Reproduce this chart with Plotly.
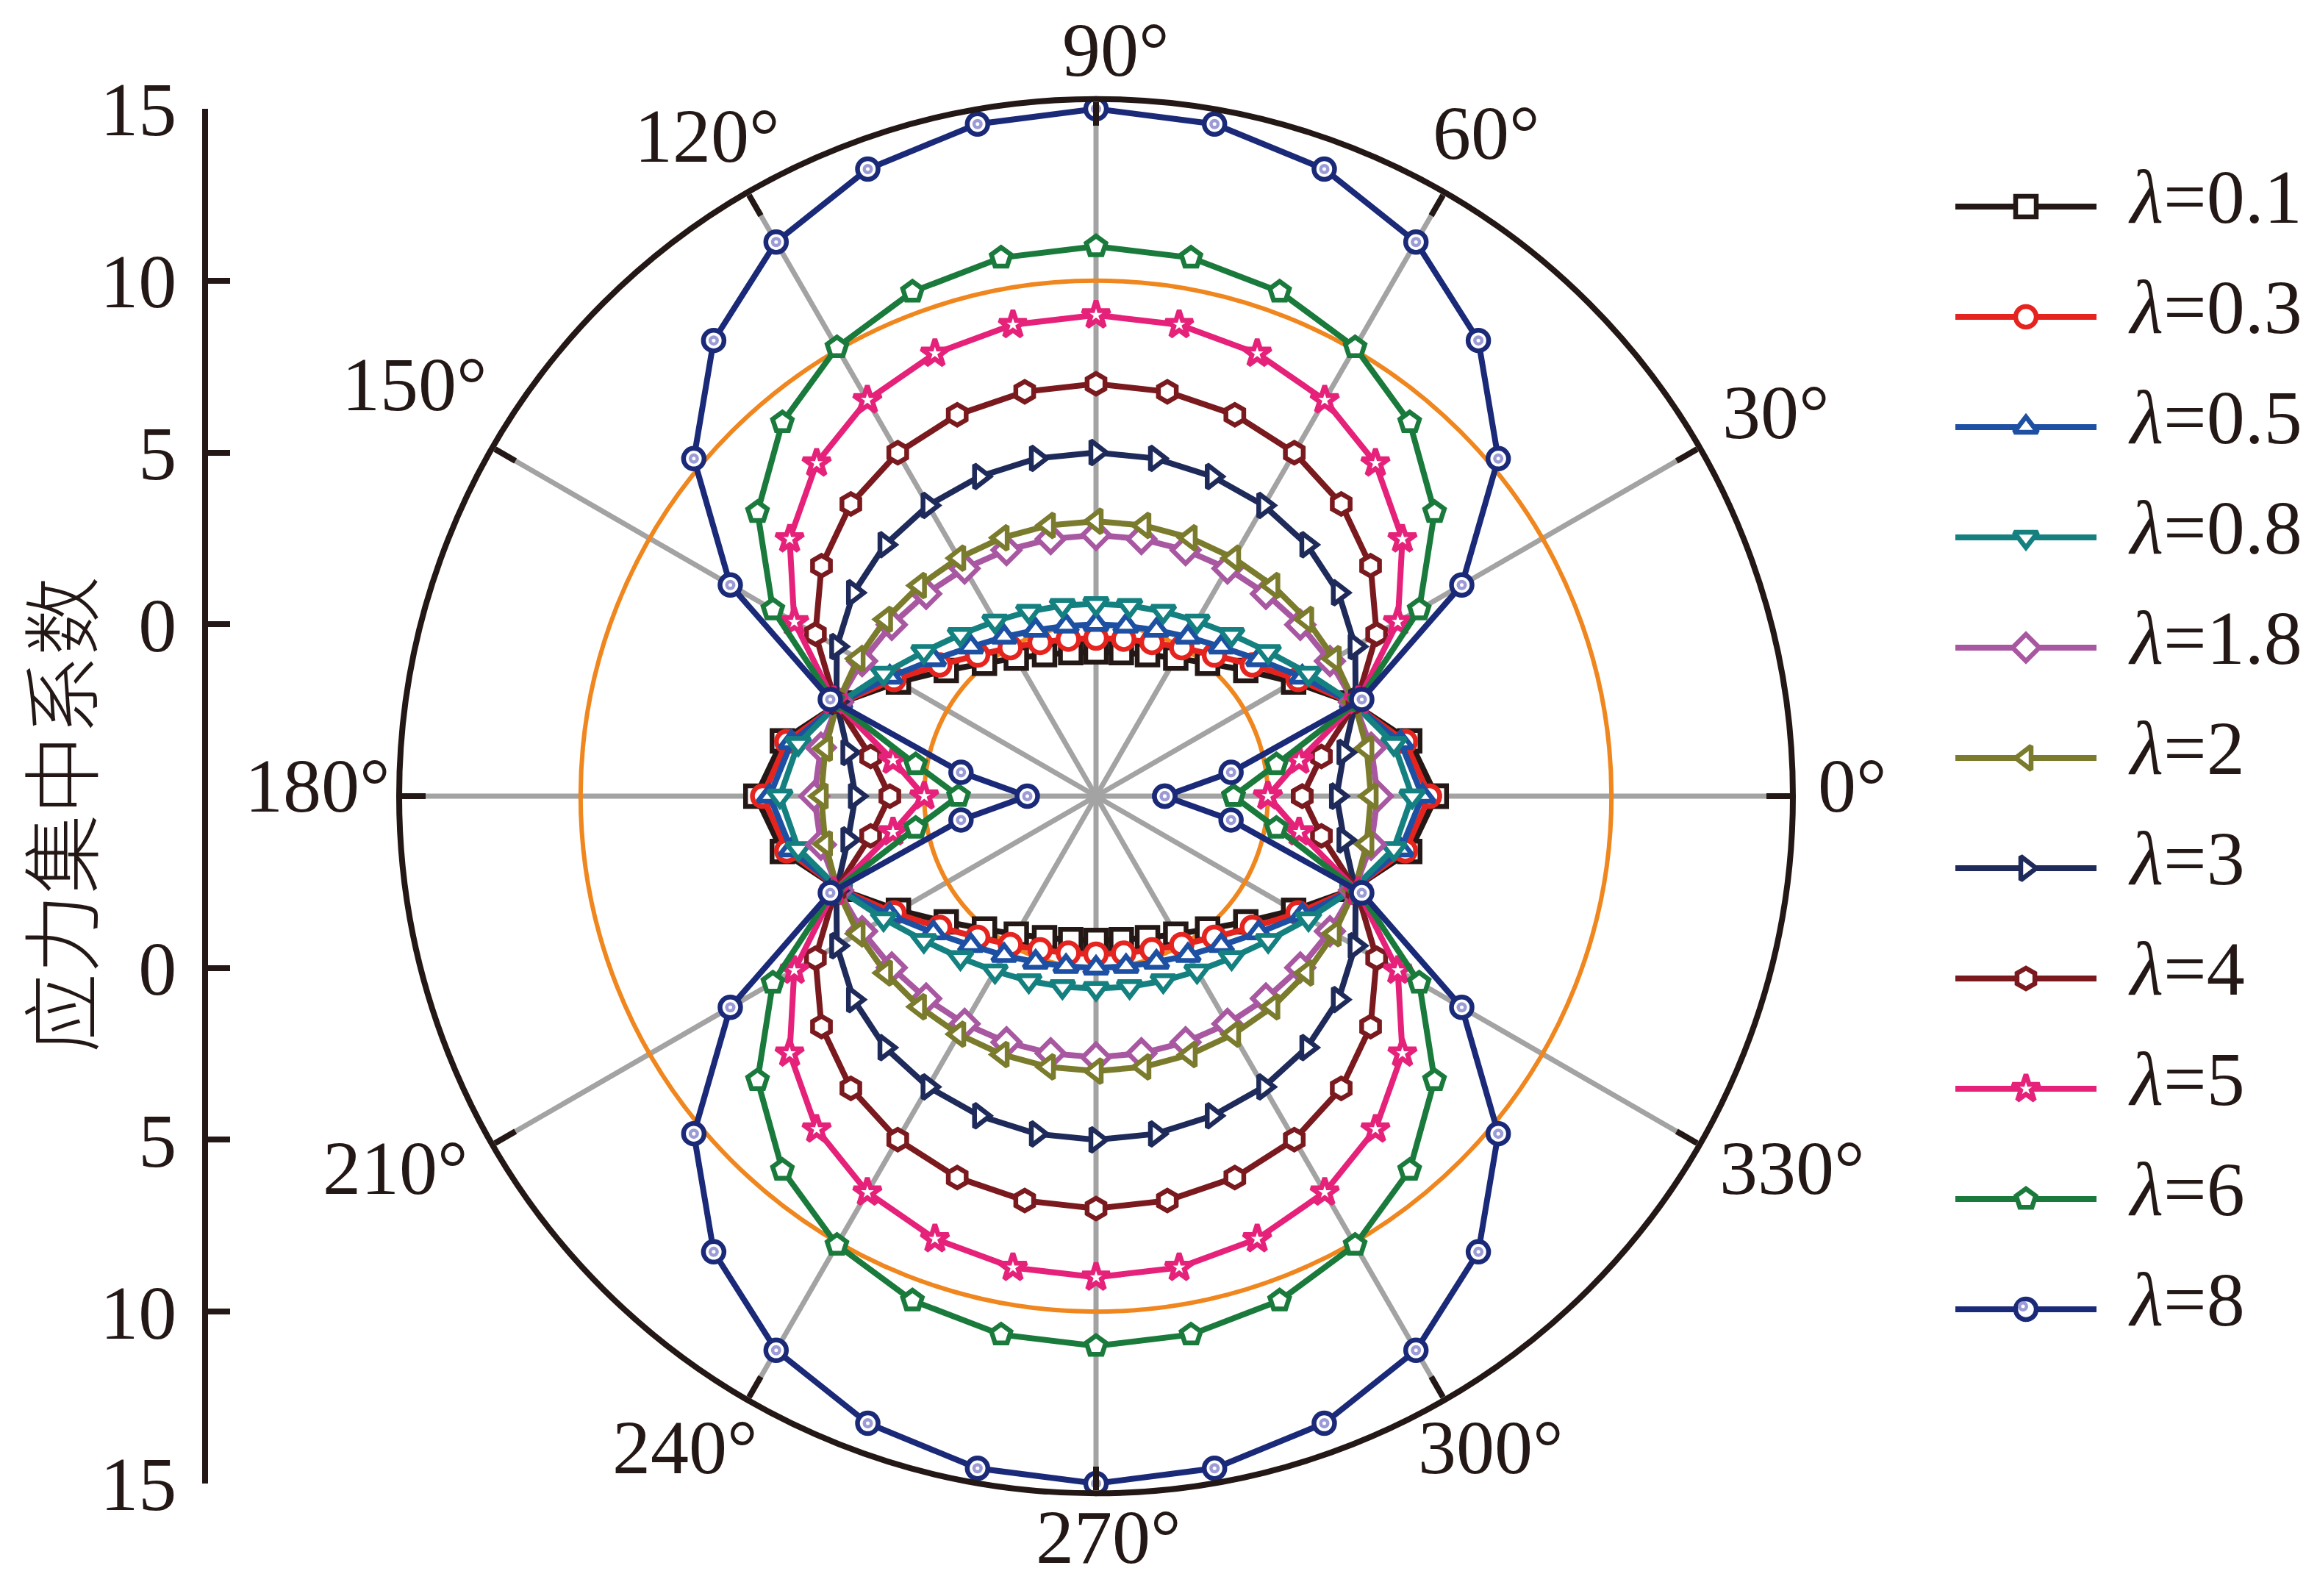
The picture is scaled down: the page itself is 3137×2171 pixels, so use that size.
import plotly.graph_objects as go

# ---------------- data ----------------
theta_deg = list(range(0, 361, 10))
lambda_labels = ["0.1", "0.3", "0.5", "0.8", "1.8", "2", "3", "4", "5", "6", "8"]

k_0_1 = [4.90, 4.27, 2.93, 1.64, 0.69, 0.05, -0.36, -0.62, -0.76, -0.80, -0.76, -0.62, -0.36, 0.05, 0.69, 1.64, 2.93, 4.27, 4.90,
         4.27, 2.93, 1.64, 0.69, 0.05, -0.36, -0.62, -0.76, -0.80, -0.76, -0.62, -0.36, 0.05, 0.69, 1.64, 2.93, 4.27, 4.90]
k_0_3 = [4.70, 4.14, 2.93, 1.79, 0.94, 0.36, -0.01, -0.24, -0.36, -0.40, -0.36, -0.24, -0.01, 0.36, 0.94, 1.79, 2.93, 4.14, 4.70,
         4.14, 2.93, 1.79, 0.94, 0.36, -0.01, -0.24, -0.36, -0.40, -0.36, -0.24, -0.01, 0.36, 0.94, 1.79, 2.93, 4.14, 4.70]
k_0_5 = [4.50, 4.00, 2.94, 1.93, 1.18, 0.67, 0.35, 0.14, 0.03, 0.00, 0.03, 0.14, 0.35, 0.67, 1.18, 1.93, 2.94, 4.00, 4.50,
         4.00, 2.94, 1.93, 1.18, 0.67, 0.35, 0.14, 0.03, 0.00, 0.03, 0.14, 0.35, 0.67, 1.18, 1.93, 2.94, 4.00, 4.50]
k_0_8 = [4.20, 3.80, 2.95, 2.14, 1.54, 1.14, 0.88, 0.72, 0.63, 0.60, 0.63, 0.72, 0.88, 1.14, 1.54, 2.14, 2.95, 3.80, 4.20,
         3.80, 2.95, 2.14, 1.54, 1.14, 0.88, 0.72, 0.63, 0.60, 0.63, 0.72, 0.88, 1.14, 1.54, 2.14, 2.95, 3.80, 4.20]
k_1_8 = [3.20, 3.13, 2.99, 2.86, 2.76, 2.69, 2.65, 2.62, 2.60, 2.60, 2.60, 2.62, 2.65, 2.69, 2.76, 2.86, 2.99, 3.13, 3.20,
         3.13, 2.99, 2.86, 2.76, 2.69, 2.65, 2.62, 2.60, 2.60, 2.60, 2.62, 2.65, 2.69, 2.76, 2.86, 2.99, 3.13, 3.20]
k_2 = [3.00, 3.00, 3.00, 3.00, 3.00, 3.00, 3.00, 3.00, 3.00, 3.00, 3.00, 3.00, 3.00, 3.00, 3.00, 3.00, 3.00, 3.00, 3.00,
       3.00, 3.00, 3.00, 3.00, 3.00, 3.00, 3.00, 3.00, 3.00, 3.00, 3.00, 3.00, 3.00, 3.00, 3.00, 3.00, 3.00, 3.00]
k_3 = [2.00, 2.33, 3.04, 3.71, 4.21, 4.55, 4.77, 4.90, 4.98, 5.00, 4.98, 4.90, 4.77, 4.55, 4.21, 3.71, 3.04, 2.33, 2.00,
       2.33, 3.04, 3.71, 4.21, 4.55, 4.77, 4.90, 4.98, 5.00, 4.98, 4.90, 4.77, 4.55, 4.21, 3.71, 3.04, 2.33, 2.00]
k_4 = [1.00, 1.66, 3.08, 4.43, 5.43, 6.10, 6.54, 6.81, 6.95, 7.00, 6.95, 6.81, 6.54, 6.10, 5.43, 4.43, 3.08, 1.66, 1.00,
       1.66, 3.08, 4.43, 5.43, 6.10, 6.54, 6.81, 6.95, 7.00, 6.95, 6.81, 6.54, 6.10, 5.43, 4.43, 3.08, 1.66, 1.00]
k_5 = [0.00, 1.00, 3.12, 5.14, 6.64, 7.65, 8.31, 8.71, 8.93, 9.00, 8.93, 8.71, 8.31, 7.65, 6.64, 5.14, 3.12, 1.00, 0.00,
       1.00, 3.12, 5.14, 6.64, 7.65, 8.31, 8.71, 8.93, 9.00, 8.93, 8.71, 8.31, 7.65, 6.64, 5.14, 3.12, 1.00, 0.00]
k_6 = [-1.00, 0.33, 3.16, 5.86, 7.86, 9.20, 10.08, 10.62, 10.91, 11.00, 10.91, 10.62, 10.08, 9.20, 7.86, 5.86, 3.16, 0.33, -1.00,
       0.33, 3.16, 5.86, 7.86, 9.20, 10.08, 10.62, 10.91, 11.00, 10.91, 10.62, 10.08, 9.20, 7.86, 5.86, 3.16, 0.33, -1.00]
k_8 = [-3.00, -1.01, 3.23, 7.29, 10.28, 12.31, 13.62, 14.42, 14.86, 15.00, 14.86, 14.42, 13.62, 12.31, 10.28, 7.29, 3.23, -1.01, -3.00,
       -1.01, 3.23, 7.29, 10.28, 12.31, 13.62, 14.42, 14.86, 15.00, 14.86, 14.42, 13.62, 12.31, 10.28, 7.29, 3.23, -1.01, -3.00]

series_values = [k_0_1, k_0_3, k_0_5, k_0_8, k_1_8, k_2, k_3, k_4, k_5, k_6, k_8]

ref_rings = [0, 10]                 # orange reference circles
radial_min, radial_max = -5, 15.28
left_axis_ticks = [15, 10, 5, 0]    # mirrored radial scale on the left
angle_ticks = [0, 30, 60, 90, 120, 150, 180, 210, 240, 270, 300, 330]
y_title = "应力集中系数"

# ---------------- styles / layout ----------------
colors = ["#231815", "#e5231f", "#1d50a2", "#14807f", "#a857a1", "#7b7b2e",
          "#1e2a5a", "#7a1a1e", "#e5217a", "#1a7a3c", "#1b2a78"]
symbols = ["square", "circle", "triangle-up", "triangle-down", "diamond", "triangle-left",
           "triangle-right", "hexagon", "star", "pentagon", "circle"]
W, H = 3137, 2171
cx, cy, R = 1483, 1075, 948
FONT = "Liberation Serif, Times New Roman, serif"
FS = 104
TXT = "#231815"
LW = 8
MS = 28
MLW = 6.5
# pixel centres of the angular labels (layout positions)
angle_label_px = [(2512, 1060), (2408, 552), (2014, 172), (1510, 60), (954, 176), (556, 514),
                  (424, 1060), (530, 1580), (924, 1960), (1500, 2082), (2020, 1960), (2430, 1580)]

fig = go.Figure()

for lab, vals, col, sym in zip(lambda_labels, series_values, colors, symbols):
    fig.add_trace(go.Scatterpolar(
        r=vals, theta=theta_deg, mode="lines+markers", name="λ=" + lab,
        line=dict(color=col, width=LW),
        marker=dict(symbol=sym, size=MS, color="white", line=dict(color=col, width=MLW)),
        cliponaxis=False, showlegend=False))

# highlight dot of the last series' markers
fig.add_trace(go.Scatterpolar(r=k_8, theta=theta_deg, mode="markers",
                              marker=dict(size=14, color="#9b9bd6", line=dict(width=0)),
                              showlegend=False, hoverinfo="skip", cliponaxis=False))
fig.add_trace(go.Scatterpolar(r=k_8, theta=theta_deg, mode="markers",
                              marker=dict(size=5, color="white", line=dict(width=0)),
                              showlegend=False, hoverinfo="skip", cliponaxis=False))

fig.update_layout(
    polar=dict(
        domain=dict(x=[(cx - R) / W, (cx + R) / W], y=[(H - cy - R) / H, (H - cy + R) / H]),
        bgcolor="rgba(0,0,0,0)",
        radialaxis=dict(range=[radial_min, radial_max], tickvals=ref_rings, showticklabels=False,
                        ticks="", showline=False, gridcolor="#f0861e", gridwidth=6),
        angularaxis=dict(rotation=0, direction="counterclockwise", tickvals=angle_ticks,
                         showticklabels=False, showline=True, linecolor=TXT,
                         linewidth=8, gridcolor="#a3a3a3", gridwidth=7, ticks="inside",
                         ticklen=32, tickwidth=8, tickcolor=TXT),
    )
)

# ---------------- left mirrored radial axis ----------------
span = radial_max - radial_min
r15_px = R * (left_axis_ticks[0] - radial_min) / span
umax = left_axis_ticks[0] - radial_min
tickvals = [t - radial_min for t in left_axis_ticks] + [-(t - radial_min) for t in left_axis_ticks]
ticktext = [str(t) for t in left_axis_ticks] * 2

fig.add_trace(go.Scatter(x=[0], y=[0], mode="markers", marker=dict(opacity=0),
                         xaxis="x", yaxis="y", showlegend=False, hoverinfo="skip"))

annotations = []
# angular tick labels
for a, (px, py) in zip(angle_ticks, angle_label_px):
    annotations.append(dict(x=px / W, y=(H - py) / H, xref="paper", yref="paper", xanchor="center",
                            yanchor="middle", text=f"{a}°", showarrow=False,
                            font=dict(family=FONT, size=FS, color=TXT)))

# ---------------- custom legend ----------------
leg_x0, leg_xm, leg_x1, leg_tx = 2652, 2748, 2844, 2885
leg_y0, leg_dy = 273, 150
for i, (lab, col, sym) in enumerate(zip(lambda_labels, colors, symbols)):
    yy = leg_y0 + i * leg_dy
    fig.add_trace(go.Scatter(x=[leg_x0, leg_x1], y=[yy, yy], mode="lines",
                             line=dict(color=col, width=LW), xaxis="x2", yaxis="y2",
                             showlegend=False, hoverinfo="skip"))
    fig.add_trace(go.Scatter(x=[leg_xm], y=[yy], mode="markers",
                             marker=dict(symbol=sym, size=MS, color="white", line=dict(color=col, width=MLW)),
                             xaxis="x2", yaxis="y2", showlegend=False, hoverinfo="skip"))
    if i == len(lambda_labels) - 1:
        fig.add_trace(go.Scatter(x=[leg_xm - 4], y=[yy - 4], mode="markers",
                                 marker=dict(size=14, color="#9b9bd6"), xaxis="x2", yaxis="y2",
                                 showlegend=False, hoverinfo="skip"))
        fig.add_trace(go.Scatter(x=[leg_xm - 4], y=[yy - 4], mode="markers",
                                 marker=dict(size=5, color="white"), xaxis="x2", yaxis="y2",
                                 showlegend=False, hoverinfo="skip"))
    annotations.append(dict(x=leg_tx, y=yy - 14, xref="x2", yref="y2", xanchor="left", yanchor="middle",
                            text="<i>λ</i>=" + lab, showarrow=False,
                            font=dict(family=FONT, size=FS, color=TXT)))

annotations.append(dict(x=70 / W, y=(H - 1100) / H, xref="paper", yref="paper", xanchor="center",
                        yanchor="middle", text=y_title, textangle=-90, showarrow=False,
                        font=dict(family="Noto Sans CJK SC", size=108, color=TXT, weight=300)))

fig.update_layout(
    width=W, height=H, margin=dict(l=0, r=0, t=0, b=0, autoexpand=False),
    paper_bgcolor="white", plot_bgcolor="rgba(0,0,0,0)", showlegend=False,
    xaxis=dict(domain=[275 / W, 0.12], visible=False, range=[-1, 1], fixedrange=True, automargin=False),
    yaxis=dict(domain=[(H - cy - r15_px) / H, (H - cy + r15_px) / H], range=[-umax, umax],
               anchor="x", tickvals=tickvals, ticktext=ticktext, ticks="inside", ticklen=30,
               tickwidth=8, tickcolor=TXT, showline=True, linewidth=8, linecolor=TXT,
               showgrid=False, zeroline=False, ticklabelstandoff=14, automargin=False,
               tickfont=dict(family=FONT, size=FS, color=TXT)),
    xaxis2=dict(domain=[0, 1], range=[0, W], visible=False, anchor="y2", automargin=False),
    yaxis2=dict(domain=[0, 1], range=[H, 0], visible=False, anchor="x2", automargin=False),
    annotations=annotations,
)

fig.write_html("out.html")
